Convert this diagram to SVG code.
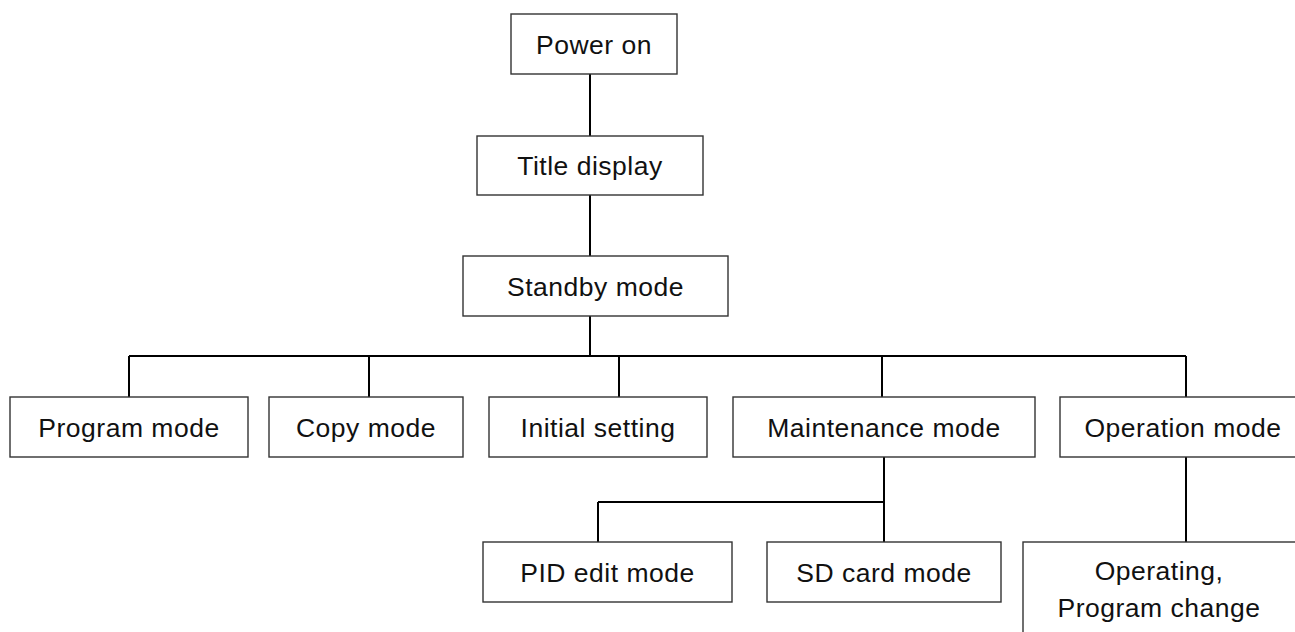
<svg xmlns="http://www.w3.org/2000/svg" width="1295" height="632" viewBox="0 0 1295 632">
<style>
.box{fill:#fff;stroke:#333;stroke-width:1.4}
.lbl{font-family:"Liberation Sans",Arial,sans-serif;font-size:26.5px;letter-spacing:0.5px;fill:#111;text-anchor:middle}
.conn{fill:none;stroke:#000;stroke-width:2}
</style>
<rect width="1295" height="632" fill="#fff"/>
<g id="connectors">
<path class="conn" d="M590 74V136M590 195V256M590 316V356M129 356H1186M129 356V397M369 356V397M619 356V397M882 356V397M1186 356V397M884 457V542M598 502H884M598 502V542M1186 457V542"/>
</g>
<g id="power-on"><rect class="box" x="511" y="14" width="166" height="60"/><text class="lbl" x="594" y="53.5">Power on</text></g>
<g id="title-display"><rect class="box" x="477" y="136" width="226" height="59"/><text class="lbl" x="590" y="175">Title display</text></g>
<g id="standby-mode"><rect class="box" x="463" y="256" width="265" height="60"/><text class="lbl" x="595.5" y="295.5">Standby mode</text></g>
<g id="program-mode"><rect class="box" x="10" y="397" width="238" height="60"/><text class="lbl" x="129" y="436.5">Program mode</text></g>
<g id="copy-mode"><rect class="box" x="269" y="397" width="194" height="60"/><text class="lbl" x="366" y="436.5">Copy mode</text></g>
<g id="initial-setting"><rect class="box" x="489" y="397" width="218" height="60"/><text class="lbl" x="598" y="436.5">Initial setting</text></g>
<g id="maintenance-mode"><rect class="box" x="733" y="397" width="302" height="60"/><text class="lbl" x="884" y="436.5">Maintenance mode</text></g>
<g id="operation-mode"><rect class="box" x="1060" y="397" width="250" height="60"/><text class="lbl" x="1183" y="436.5">Operation mode</text></g>
<g id="pid-edit-mode"><rect class="box" x="483" y="542" width="249" height="60"/><text class="lbl" x="607.5" y="581.5">PID edit mode</text></g>
<g id="sd-card-mode"><rect class="box" x="767" y="542" width="234" height="60"/><text class="lbl" x="884" y="581.5">SD card mode</text></g>
<g id="operating"><rect class="box" x="1023" y="542" width="290" height="110"/><text class="lbl" x="1159" y="580">Operating,</text><text class="lbl" x="1159" y="617">Program change</text></g>
</svg>
